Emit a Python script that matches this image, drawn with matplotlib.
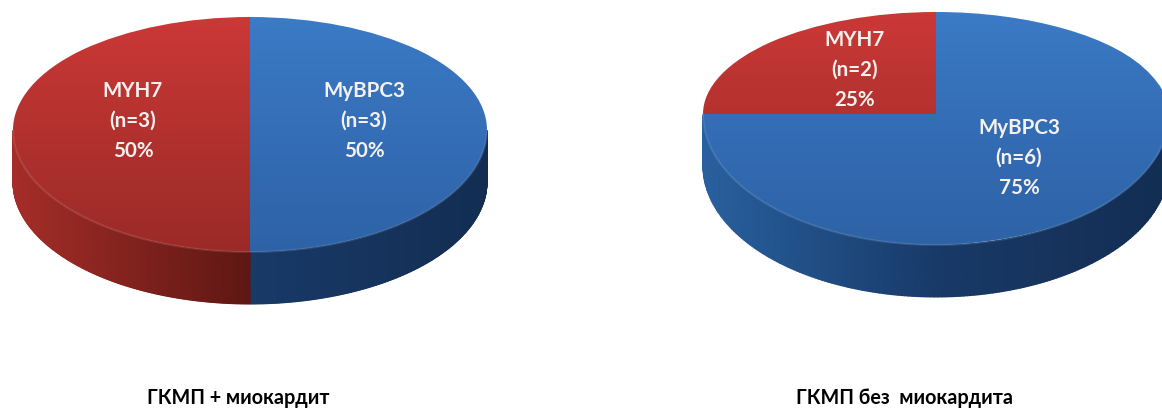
import numpy as np
import matplotlib
matplotlib.use('Agg')
import matplotlib.pyplot as plt
from matplotlib.colors import LinearSegmentedColormap

plt.rcParams['font.family'] = ['Lato', 'Open Sans', 'DejaVu Sans']
plt.rcParams['font.weight'] = 'bold'

W, H = 1162, 412

genes = ['MyBPC3', 'MYH7']
left_counts = [3, 3]
right_counts = [6, 2]
left_pct = ['50%', '50%']
right_pct = ['75%', '25%']
titles = ['ГКМП + миокардит', 'ГКМП без  миокардита']

top_cmaps = [
    LinearSegmentedColormap.from_list('b', ['#3b7ac6', '#2d62a6']),
    LinearSegmentedColormap.from_list('r', ['#cb3836', '#9a2a27']),
]
wall_cmaps = [
    LinearSegmentedColormap.from_list('bw', ['#28609f', '#183a68', '#132d52']),
    LinearSegmentedColormap.from_list('rw', ['#a52d28', '#5e1713', '#5e1713']),
]


def draw_pie(counts, pct, cx, cy, rx, up, down, depth, label_xy):
    # axes in pixels, a bit wider than the pie so the edge is not cut
    pad = 4
    left = cx - rx - pad
    right = cx + rx + pad
    top = cy - up - pad
    bottom = cy + down + depth + pad
    ax = fig.add_axes([left / W, 1 - bottom / H, (right - left) / W, (bottom - top) / H])

    wedges, _ = ax.pie(counts, startangle=90, counterclock=False, radius=1,
                       colors=['none', 'none'], wedgeprops={'linewidth': 0})
    ax.set_aspect('auto')

    # the top of the pie is seen in perspective: far half flatter than near half
    def forward(y):
        y = np.asarray(y, dtype=float)
        return np.where(y > 0, y * up, y * down)

    def inverse(p):
        p = np.asarray(p, dtype=float)
        return np.where(p > 0, p / up, p / down)

    ax.set_yscale('function', functions=(forward, inverse))
    ax.set_xlim(-1 - pad / rx, 1 + pad / rx)
    ax.set_ylim(-(down + depth + pad) / down, (up + pad) / up)
    ax.axis('off')

    # side wall, only the front half is visible
    start = 90.0
    for i, c in enumerate(counts):
        end = start - 360.0 * c / sum(counts)
        for shift in (0, 360):
            hi = min(start + shift, 0)
            lo = max(end + shift, -180)
            if hi <= lo:
                continue
            th = np.radians(np.linspace(lo, hi, 200))
            s = np.linspace(0, 1, 2)
            X = np.outer(np.ones(2), np.cos(th))
            Y = np.outer(np.ones(2), np.sin(th)) - np.outer(s, np.ones(200)) * depth / down
            ax.pcolormesh(X, Y, (X + 1) / 2, cmap=wall_cmaps[i], vmin=0, vmax=1,
                          shading='gouraud', zorder=1)
        start = end

    # top face with vertical gradient clipped to each wedge
    ys = np.linspace(-1, 1, 240)
    xs = np.array([-1.01, 1.01])
    for i, w in enumerate(wedges):
        C = np.outer((1 - ys) / 2, np.ones(2))
        mesh = ax.pcolormesh(xs, ys, C[:-1, :-1], cmap=top_cmaps[i], vmin=0, vmax=1,
                             shading='flat', zorder=2, rasterized=True)
        mesh.set_clip_path(w)

    # soft light rim on the near edge
    th = np.radians(np.linspace(-180, 0, 300))
    ax.plot(np.cos(th), np.sin(th), color='white', alpha=0.1, lw=1.5, zorder=3)

    for i, g in enumerate(genes):
        s = f'{g}\n(n={counts[i]})\n{pct[i]}'
        x, y = label_xy[i]
        fig.text(x / W, 1 - y / H, s, color='#f4f1ee', fontsize=14.8, fontweight='bold',
                 ha='center', va='center', linespacing=1.62, zorder=5)


fig = plt.figure(figsize=(W / 100, H / 100), dpi=100, facecolor='white')

draw_pie(left_counts, left_pct, 250, 130, 237, 113, 122, 52, [(364, 121), (133, 121)])
draw_pie(right_counts, right_pct, 936, 114, 233, 102, 131, 52, [(1019, 158), (855, 70)])

fig.text(238 / W, 1 - 398 / H, titles[0], fontsize=14.2, fontweight='bold',
         ha='center', va='center', color='black')
fig.text(905 / W, 1 - 398 / H, titles[1], fontsize=14.2, fontweight='bold',
         ha='center', va='center', color='black')

fig.savefig('out.png', dpi=100, facecolor='white')
